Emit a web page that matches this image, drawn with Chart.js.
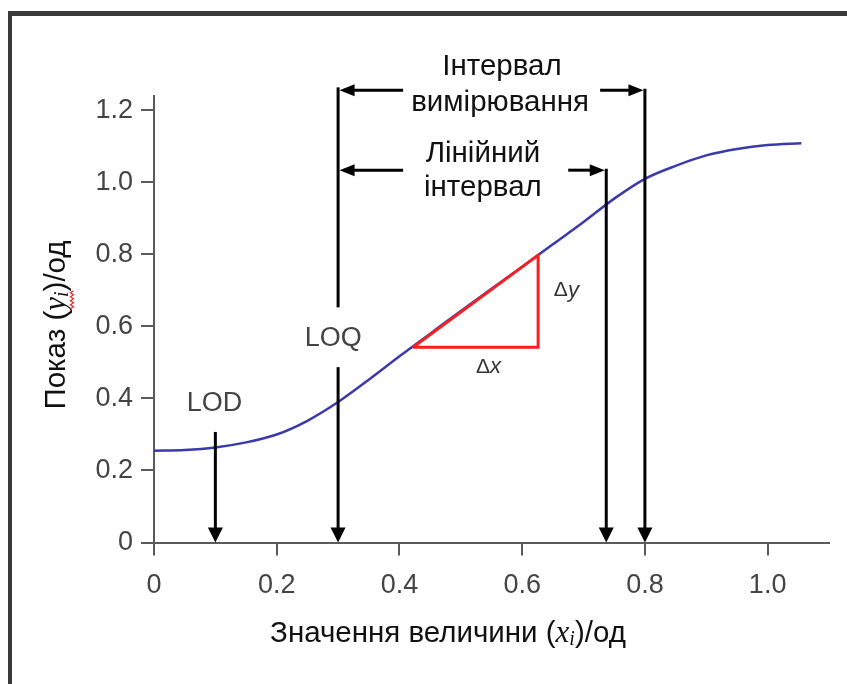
<!DOCTYPE html>
<html><head><meta charset="utf-8">
<script src="https://cdn.jsdelivr.net/npm/chart.js@4/dist/chart.umd.min.js"></script>
<style>
html,body{margin:0;padding:0;background:#fff;}
#wrap{position:relative;width:847px;height:684px;overflow:hidden;}
#frame{position:absolute;left:8px;top:11px;right:-10px;bottom:-10px;border-left:4px solid #3a3a3a;border-top:5px solid #3a3a3a;pointer-events:none;}
canvas{display:block;}
</style></head><body>
<div id="wrap"><canvas id="c" width="847" height="684"></canvas><div id="frame"></div></div>
<script>
// ---- data ----
const curveX = [0,0.05,0.10,0.15,0.20,0.25,0.30,0.35,0.40,0.45,0.50,0.55,0.60,0.65,0.70,0.75,0.80,0.85,0.90,0.95,1.00,1.055];
const curveY = [0.255,0.257,0.264,0.278,0.300,0.338,0.390,0.452,0.517,0.580,0.643,0.705,0.766,0.828,0.890,0.955,1.010,1.046,1.075,1.093,1.104,1.109];
const triangleX = [0.422,0.626,0.626,0.422];
const triangleY = [0.542,0.798,0.542,0.542];
const xTicks = [0,0.2,0.4,0.6,0.8,1.0];
const yTicks = [0,0.2,0.4,0.6,0.8,1.0,1.2];
const markerNames = ['LOD','LOQ','linEnd','rangeEnd'];
const markerX = [0.10,0.30,0.737,0.80];
const markerTopY = [0.307,1.264,1.034,1.256];
const rangeLabels = ['Інтервал','вимірювання'];
const linearLabels = ['Лінійний','інтервал'];

const fmt = v => (Math.abs(v) < 1e-9 ? '0' : v.toFixed(1));
const SANS = '"Liberation Sans", Arial, sans-serif';
const SERIF = '"Liberation Serif", "Times New Roman", serif';

function arrowHead(ctx, x, y, dir, len, half) {
  ctx.beginPath();
  if (dir === 'down') { ctx.moveTo(x, y); ctx.lineTo(x - half, y - len); ctx.lineTo(x + half, y - len); }
  else if (dir === 'left') { ctx.moveTo(x, y); ctx.lineTo(x + len, y - half); ctx.lineTo(x + len, y + half); }
  else { ctx.moveTo(x, y); ctx.lineTo(x - len, y - half); ctx.lineTo(x - len, y + half); }
  ctx.closePath(); ctx.fill();
}
function seg(ctx, x1, y1, x2, y2) { ctx.beginPath(); ctx.moveTo(x1, y1); ctx.lineTo(x2, y2); ctx.stroke(); }

function drawMixed(ctx, parts, cx, cy) {
  let total = 0;
  parts.forEach(p => { ctx.font = p.font; p.w = ctx.measureText(p.t).width; total += p.w; });
  let x = cx - total / 2;
  parts.forEach(p => { ctx.font = p.font; ctx.fillStyle = p.color || '#111'; ctx.fillText(p.t, x, cy + (p.dy || 0)); p.x = x; x += p.w; });
  return parts;
}

const annot = {
  id: 'annot',
  afterDatasetsDraw(chart) {
    const ctx = chart.ctx, xs = chart.scales.x, ys = chart.scales.y;
    const X = v => xs.getPixelForValue(v), Y = v => ys.getPixelForValue(v);
    const y0 = Y(0);
    ctx.save();
    ctx.strokeStyle = '#000'; ctx.fillStyle = '#000'; ctx.lineWidth = 3; ctx.lineCap = 'butt';
    const HL = 15, HH = 7.5;
    // LOD
    let x = X(markerX[0]);
    seg(ctx, x, Y(markerTopY[0]), x, y0 - HL + 1); arrowHead(ctx, x, y0, 'down', HL, HH);
    // LOQ (broken around label)
    x = X(markerX[1]);
    seg(ctx, x, Y(markerTopY[1]), x, Y(0.653));
    seg(ctx, x, Y(0.487), x, y0 - HL + 1); arrowHead(ctx, x, y0, 'down', HL, HH);
    // linear interval end
    const xl = X(markerX[2]);
    seg(ctx, xl, Y(markerTopY[2]) - 1.5, xl, y0 - HL + 1); arrowHead(ctx, xl, y0, 'down', HL, HH);
    // measuring interval end
    const xr = X(markerX[3]);
    seg(ctx, xr, Y(markerTopY[3]) - 1.5, xr, y0 - HL + 1); arrowHead(ctx, xr, y0, 'down', HL, HH);
    // horizontal arrows
    const xq = X(markerX[1]);
    const yTop = Y(markerTopY[3]), yLin = Y(markerTopY[2]);
    seg(ctx, X(0.406), yTop, xq + HL - 1, yTop); arrowHead(ctx, xq + 1.5, yTop, 'left', HL, HH - 1.5);
    seg(ctx, X(0.727), yTop, xr - HL + 1, yTop); arrowHead(ctx, xr - 1.5, yTop, 'right', HL, HH - 1.5);
    seg(ctx, X(0.406), yLin, xq + HL - 1, yLin); arrowHead(ctx, xq + 1.5, yLin, 'left', HL, HH - 1.5);
    seg(ctx, X(0.675), yLin, xl - HL + 1, yLin); arrowHead(ctx, xl - 1.5, yLin, 'right', HL, HH - 1.5);

    // texts
    ctx.textAlign = 'center'; ctx.textBaseline = 'middle';
    ctx.fillStyle = '#111'; ctx.font = '29.5px ' + SANS;
    ctx.fillText(rangeLabels[0], X(0.567), Y(1.322));
    ctx.fillText(rangeLabels[1], X(0.564), Y(1.222));
    ctx.fillText(linearLabels[0], X(0.536), Y(1.080));
    ctx.fillText(linearLabels[1], X(0.536), Y(0.985));
    ctx.fillStyle = '#444'; ctx.font = '27px ' + SANS;
    ctx.fillText(markerNames[0], X(0.0985), Y(0.387));
    ctx.fillText(markerNames[1], X(0.292), Y(0.567));
    // delta labels
    ctx.textAlign = 'left';
    drawMixed(ctx, [{t:'Δ', font:'21px ' + SANS, color:'#333'}, {t:'y', font:'italic 22px ' + SANS, color:'#333'}], X(0.672), Y(0.70));
    drawMixed(ctx, [{t:'Δ', font:'21px ' + SANS, color:'#333'}, {t:'x', font:'italic 22px ' + SANS, color:'#333'}], X(0.545), Y(0.487));
    ctx.restore();
  },
  afterDraw(chart) {
    const ctx = chart.ctx, a = chart.chartArea;
    ctx.save();
    ctx.textAlign = 'left'; ctx.textBaseline = 'middle';
    // x title
    drawMixed(ctx, [
      {t:'Значення величини (', font:'29.5px ' + SANS},
      {t:'x', font:'italic 31px ' + SERIF},
      {t:'i', font:'italic 20px ' + SERIF, dy:6},
      {t:')/од', font:'29.5px ' + SANS}
    ], a.left + 294, a.bottom + 91);
    // y title (rotated)
    ctx.translate(57, 325);
    ctx.rotate(-Math.PI / 2);
    const p = drawMixed(ctx, [
      {t:'Показ (', font:'29.5px ' + SANS},
      {t:'y', font:'italic 31px ' + SERIF},
      {t:'i', font:'italic 20px ' + SERIF, dy:6},
      {t:')/од', font:'29.5px ' + SANS}
    ], 0, 0);
    // spell-check squiggle under y_i
    ctx.strokeStyle = '#e03030'; ctx.lineWidth = 1.3;
    ctx.beginPath();
    const sx = p[1].x + 2, ex = p[2].x + p[2].w + 1;
    for (let i = 0, xx = sx; xx <= ex; xx += 2, i++) { const yy = 15 + (i % 2 ? 1.5 : -1.5); if (i === 0) ctx.moveTo(xx, yy); else ctx.lineTo(xx, yy); }
    ctx.stroke();
    ctx.restore();
  }
};

const curvePts = curveX.map((v, i) => ({x: v, y: curveY[i]}));
const triPts = triangleX.map((v, i) => ({x: v, y: triangleY[i]}));

new Chart(document.getElementById('c').getContext('2d'), {
  type: 'scatter',
  data: { datasets: [
    { data: triPts, showLine: true, borderColor: '#ff1c1c', borderWidth: 3, pointRadius: 0, tension: 0, order: 0 },
    { data: curvePts, showLine: true, borderColor: '#3a3aae', borderWidth: 2.5, pointRadius: 0, cubicInterpolationMode: 'monotone', order: 1 }
  ]},
  options: {
    responsive: false, animation: false, events: [],
    plugins: { legend: { display: false }, tooltip: { enabled: false } },
    layout: { padding: { top: 96, right: 18, left: 0, bottom: 0 } },
    scales: {
      x: {
        type: 'linear', min: 0, max: 1.1,
        afterFit(s) { s.height = 141.5; },
        afterBuildTicks(s) { s.ticks = xTicks.map(v => ({value: v})); },
        border: { display: true, color: '#5a5a5a', width: 2 },
        grid: { drawOnChartArea: false, drawTicks: true, tickLength: 13, color: '#5a5a5a', lineWidth: 2 },
        ticks: { padding: 14, color: '#444', font: { family: 'Liberation Sans', size: 27 }, callback: v => fmt(v), maxRotation: 0, autoSkip: false }
      },
      y: {
        type: 'linear', min: 0, max: 1.24,
        afterFit(s) { s.width = 154; },
        afterBuildTicks(s) { s.ticks = yTicks.map(v => ({value: v})); },
        border: { display: true, color: '#5a5a5a', width: 2 },
        grid: { drawOnChartArea: false, drawTicks: true, tickLength: 13, color: '#5a5a5a', lineWidth: 2 },
        ticks: { padding: 8, color: '#444', font: { family: 'Liberation Sans', size: 27 }, callback: v => fmt(v), autoSkip: false }
      }
    }
  },
  plugins: [annot]
});
</script>
</body></html>
